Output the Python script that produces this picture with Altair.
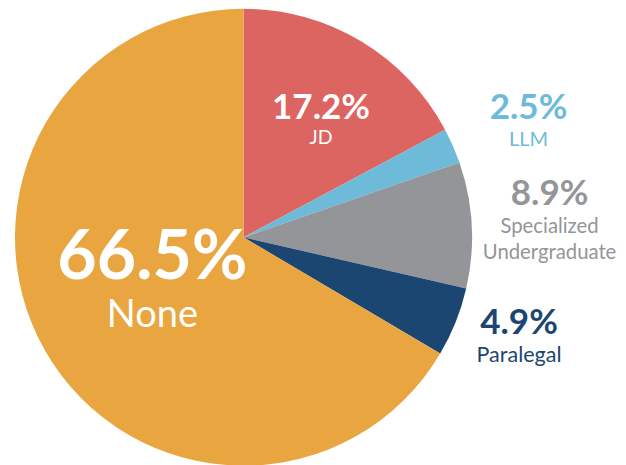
import math
import altair as alt
import pandas as pd

categories = ["JD", "LLM", "Specialized Undergraduate", "Paralegal", "None"]
shares = [17.2, 2.5, 8.9, 4.9, 66.5]
pct_labels = ["17.2%", "2.5%", "8.9%", "4.9%", "66.5%"]
name_labels = ["JD", "LLM", "Specialized\nUndergraduate", "Paralegal", "None"]
colors = ["#dd6561", "#6dbad9", "#939598", "#1c4672", "#e9a53f"]

df = pd.DataFrame({
    "cat": categories,
    "value": shares,
    "idx": list(range(len(categories))),
    "pct": pct_labels,
    "name": name_labels,
})

CX, CY, R = 235.5, 229.3, 228.5
FONT = "Lato"

# label placement / styling per slice
label_style = {
    "JD": dict(r=150.7, pdy=11, ndy=36, ps=35, ns=19.5, pc="#ffffff", nc="#ffffff"),
    "LLM": dict(r=311, pdy=6, ndy=33, ps=35, ns=20, pc="#6dbad9", nc="#6dbad9"),
    "Specialized Undergraduate": dict(r=306.5, pdy=-16, ndy=12, ps=35, ns=20.3, pc="#939598", nc="#939598"),
    "Paralegal": dict(r=296.7, pdy=-13, ndy=15, ps=35, ns=21.5, pc="#1c4672", nc="#1c4672"),
    "None": dict(r=104.8, pdy=-10, ndy=38, ps=68, ns=38, pc="#ffffff", nc="#ffffff"),
}

base = alt.Chart(df)

pie = base.mark_arc(radius=R).encode(
    theta=alt.Theta("value:Q", stack=True),
    order=alt.Order("idx:Q"),
    color=alt.Color("cat:N", scale=alt.Scale(domain=categories, range=colors), legend=None),
    x=alt.value(CX),
    y=alt.value(CY),
)

stacked = base.transform_stack(
    stack="value", groupby=[], as_=["v0", "v1"], sort=[alt.SortField("idx")]
).transform_calculate(mid="(datum.v0 + datum.v1) / 2")

theta_mid = alt.Theta("mid:Q", scale=alt.Scale(domain=[0, 100], range=[0, 2 * math.pi]), stack=None)

layers = [pie]
for c in categories:
    s = label_style[c]
    sub = stacked.transform_filter(alt.datum.cat == c)
    layers.append(
        sub.mark_text(
            radius=s["r"], dy=s["pdy"], fontSize=s["ps"], font=FONT, fontWeight="bold",
            color=s["pc"], align="center", baseline="alphabetic",
        ).encode(theta=theta_mid, text="pct:N", x=alt.value(CX), y=alt.value(CY))
    )
    layers.append(
        sub.mark_text(
            radius=s["r"], dy=s["ndy"], fontSize=s["ns"], font=FONT, fontWeight="normal",
            color=s["nc"], align="center", baseline="alphabetic", lineBreak="\n", lineHeight=26,
        ).encode(theta=theta_mid, text="name:N", x=alt.value(CX), y=alt.value(CY))
    )

chart = alt.layer(*layers).resolve_scale(theta="independent").properties(
    width=610, height=458, padding=0, autosize="none"
).configure_view(stroke=None)

chart.save("out.html", embed_options={"renderer": "svg", "actions": False})
